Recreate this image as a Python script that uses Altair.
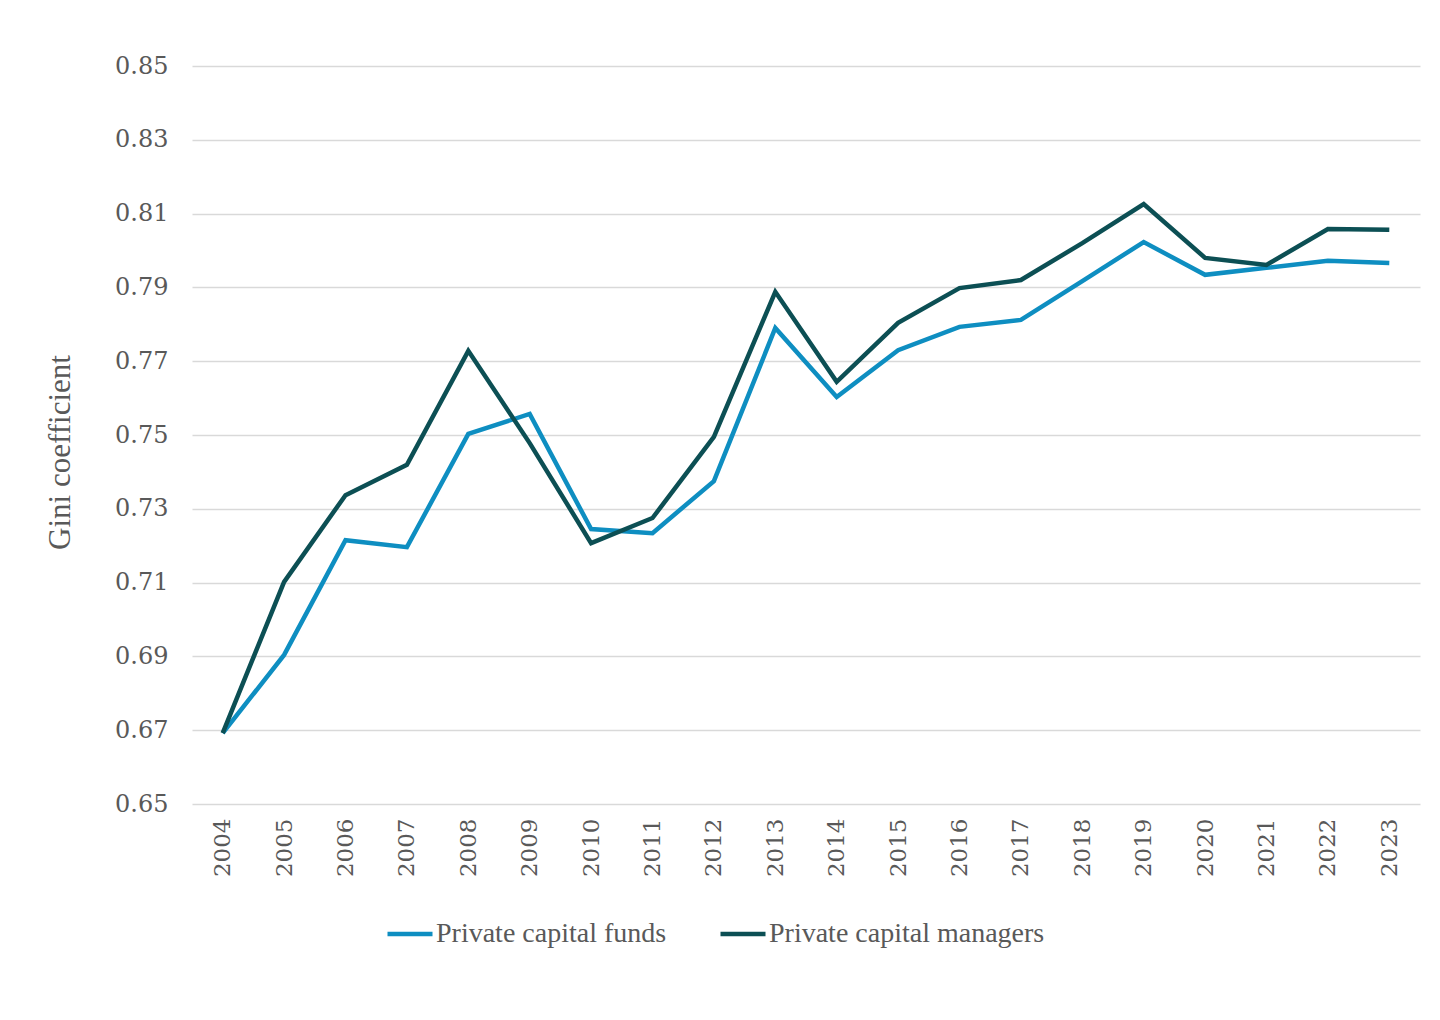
import pandas as pd
import altair as alt

# values
years = [str(y) for y in range(2004, 2024)]
funds = [0.6692, 0.6904, 0.7215, 0.7196, 0.7503, 0.7557, 0.7245, 0.7234, 0.7375, 0.7790,
         0.7603, 0.7730, 0.7793, 0.7812, 0.7917, 0.8023, 0.7934, 0.7953, 0.7972, 0.7966]
managers = [0.6692, 0.7102, 0.7337, 0.7419, 0.7728, 0.7478, 0.7207, 0.7275, 0.7495, 0.7888,
            0.7644, 0.7804, 0.7898, 0.7920, 0.8020, 0.8126, 0.7980, 0.7961, 0.8058, 0.8056]
series = ['Private capital funds', 'Private capital managers']
colors = ['#0e8ec1', '#0c4f54']
y_ticks = [0.65, 0.67, 0.69, 0.71, 0.73, 0.75, 0.77, 0.79, 0.81, 0.83, 0.85]

df = pd.concat([
    pd.DataFrame({'Year': years, 'Gini': funds, 'Series': series[0]}),
    pd.DataFrame({'Year': years, 'Gini': managers, 'Series': series[1]}),
])

grey = '#595959'
tick_font = 'DejaVu Serif'
text_font = 'Liberation Serif'

chart = alt.Chart(df).mark_line(strokeWidth=4.5, strokeJoin='miter').encode(
    x=alt.X('Year:O', title=None, sort=years,
            scale=alt.Scale(type='point', padding=0.5),
            axis=alt.Axis(labelAngle=-90, labelFont=tick_font, labelFontSize=23,
                          labelColor=grey, labelPadding=14, ticks=False,
                          domain=False, grid=False)),
    y=alt.Y('Gini:Q', title='Gini coefficient',
            scale=alt.Scale(domain=[0.65, 0.85], nice=False, zero=False),
            axis=alt.Axis(values=y_ticks, format='.2f', labelFont=tick_font,
                          labelFontSize=24, labelColor=grey, labelPadding=24,
                          ticks=False, domain=False, gridColor='#d9d9d9',
                          gridWidth=1.5, titleFont=text_font, titleFontSize=31,
                          titleFontWeight='normal', titleColor=grey,
                          titlePadding=38, titleY=386)),
    color=alt.Color('Series:N', sort=series,
                    scale=alt.Scale(domain=series, range=colors),
                    legend=alt.Legend(title=None, orient='none', direction='horizontal',
                                      legendX=193, legendY=843, labelLimit=0,
                                      symbolType='stroke', symbolSize=2025,
                                      symbolStrokeWidth=4.5, labelFont=text_font,
                                      labelFontSize=28, labelColor=grey,
                                      labelOffset=1, columnPadding=44)),
).properties(
    width=1228,
    height=738,
    autosize=alt.AutoSizeParams(type='none'),
    padding={'left': 184, 'top': 58, 'right': 12, 'bottom': 200},
).configure_view(
    stroke=None
)

chart.save("out.html", embed_options={"renderer": "svg", "actions": False})
